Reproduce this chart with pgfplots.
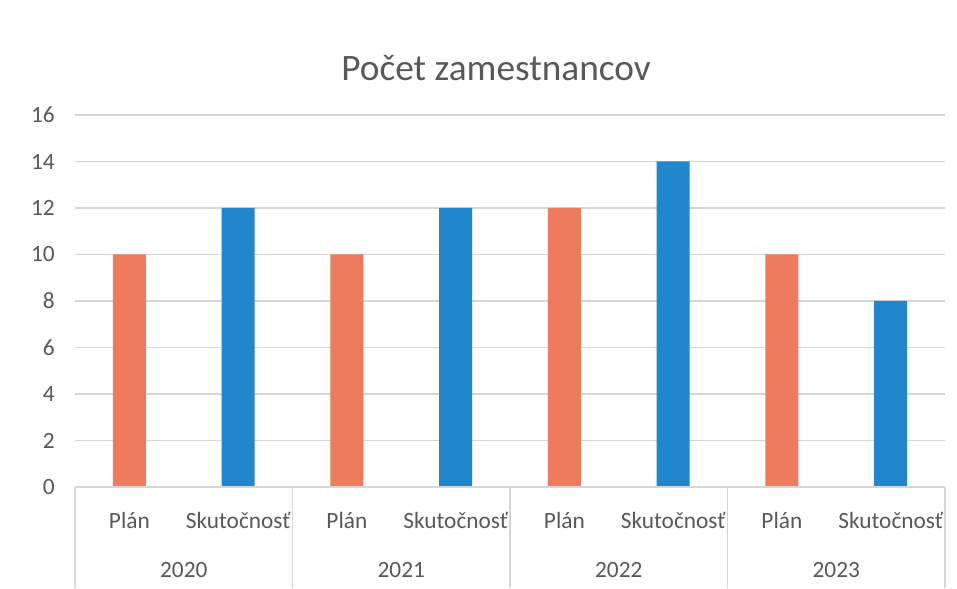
\documentclass[border=0pt]{standalone}
\usepackage{pgfplots}
\pgfplotsset{compat=1.18}
\usepackage{fontspec}
\setmainfont{Carlito}
\definecolor{plan}{RGB}{238,124,92}
\definecolor{skut}{RGB}{32,135,205}
\definecolor{txt}{RGB}{89,89,89}
\definecolor{gridc}{RGB}{214,214,214}
\begin{document}
\begin{tikzpicture}[x=0.75pt,y=0.75pt]
\useasboundingbox (0,0) rectangle (957,589);
\fill[white] (0,0) rectangle (957,589);
\begin{axis}[
  at={(56.25pt,76.5pt)}, anchor=south west,
  scale only axis, width=652.5pt, height=279pt,
  xmin=-0.5, xmax=7.5, ymin=0, ymax=16,
  ytick={0,2,...,16},
  xtick={0,...,7},
  xticklabels={Plán,Skutočnosť,Plán,Skutočnosť,Plán,Skutočnosť,Plán,Skutočnosť},
  ymajorgrids, grid style={gridc, line width=0.8pt},
  axis line style={draw=none},
  major tick length=0pt,
  /pgf/number format/assume math mode=true,
  tick label style={font=\fontsize{17.5pt}{20pt}\selectfont, text=txt},
  yticklabel style={anchor=east, inner sep=0pt, xshift=-15pt},
  xticklabel style={anchor=center, inner sep=0pt, yshift=-24.75pt},
  ybar, bar width=24.75pt, bar shift=0pt,
  clip=false,
]
\addplot[fill=plan, draw=none] coordinates {(0,10) (2,10) (4,12) (6,10)};
\addplot[fill=skut, draw=none] coordinates {(1,12) (3,12) (5,14) (7,8)};
\draw[gridc, line width=0.8pt] (axis cs:-0.5,0) -- (axis cs:7.5,0);
\draw[gridc, line width=0.8pt] (axis cs:-0.5,0) -- ++(0pt,-76pt);
\draw[gridc, line width=0.8pt] (axis cs:1.5,0) -- ++(0pt,-76pt);
\draw[gridc, line width=0.8pt] (axis cs:3.5,0) -- ++(0pt,-76pt);
\draw[gridc, line width=0.8pt] (axis cs:5.5,0) -- ++(0pt,-76pt);
\draw[gridc, line width=0.8pt] (axis cs:7.5,0) -- ++(0pt,-76pt);
\node[font=\fontsize{17.5pt}{20pt}\selectfont, text=txt, inner sep=0pt] at (axis cs:0.5,0) [yshift=-62.25pt] {2020};
\node[font=\fontsize{17.5pt}{20pt}\selectfont, text=txt, inner sep=0pt] at (axis cs:2.5,0) [yshift=-62.25pt] {2021};
\node[font=\fontsize{17.5pt}{20pt}\selectfont, text=txt, inner sep=0pt] at (axis cs:4.5,0) [yshift=-62.25pt] {2022};
\node[font=\fontsize{17.5pt}{20pt}\selectfont, text=txt, inner sep=0pt] at (axis cs:6.5,0) [yshift=-62.25pt] {2023};
\end{axis}
\node[font=\fontsize{28pt}{32pt}\selectfont, text=txt] at (496,521) {Počet zamestnancov};
\end{tikzpicture}
\end{document}
